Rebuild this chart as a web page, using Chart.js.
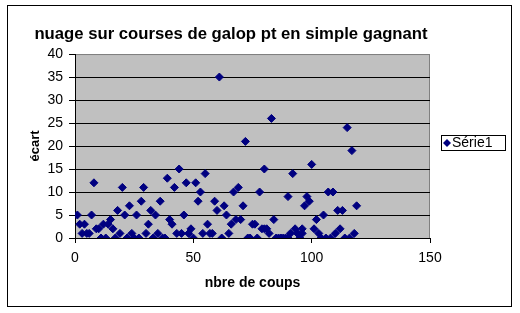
<!DOCTYPE html>
<html>
<head>
<meta charset="utf-8">
<script src="https://cdn.jsdelivr.net/npm/chart.js@4"></script>
<style>
html,body{margin:0;padding:0;background:#fff;}
#wrap{width:520px;height:313px;}
</style>
</head>
<body>
<div id="wrap"><canvas id="c" width="520" height="313"></canvas></div>
<script>
const chartTitle = "nuage sur courses de galop pt en simple gagnant";
const xAxisTitle = "nbre de coups";
const yAxisTitle = "écart";
const seriesName = "Série1";
const xTicks = [0, 50, 100, 150];
const yTicks = [0, 5, 10, 15, 20, 25, 30, 35, 40];
const nbreCoups = [1,2,4,3,5,6,7,8,9,10,11,13,12,14,15,16,17,18,19,20,21,22,23,24,25,27,26,28,29,30,31,32,33,34,35,36,37,38,39,40,41,42,43,44,45,46,47,48,49,50,51,52,53,54,55,56,57,58,59,60,61,62,63,64,65,66,67,68,69,70,71,72,73,74,75,76,77,78,79,80,80,81,82,83,84,85,86,87,88,89,90,90,91,92,93,94,95,96,96,97,98,99,100,101,102,103,104,105,106,107,108,109,110,111,112,113,114,115,116,117,118,119];
const ecart     = [5,3,3,1,1,1,5,12,2,2,0,0,3,3,4,2,0,6,1,11,5,0,7,1,0,0,5,8,11,1,3,6,0,5,1,8,0,0,13,4,3,11,1,15,1,5,12,1,2,0,12,8,10,1,14,3,1,1,8,6,35,0,7,5,1,3,10,4,11,4,7,21,0,0,3,3,0,10,2,2,15,2,1,26,4,0,0,0,0,0,9,0,1,14,2,1,0,2,1,7,9,8,16,2,4,1,0,5,0,10,0,10,1,6,2,6,0,24,0,19,1,7];

const points = nbreCoups.map((x, i) => ({x: x, y: ecart[i]}));
const NAVY = '#000080';
const FONT = "'Liberation Sans', Arial, sans-serif";

const decor = {
  id: 'decor',
  beforeDraw(chart) {
    const {ctx, chartArea: a} = chart;
    ctx.save();
    ctx.fillStyle = '#fff';
    ctx.fillRect(0, 0, chart.width, chart.height);
    ctx.fillStyle = '#c0c0c0';
    ctx.fillRect(a.left, a.top, a.right - a.left, a.bottom - a.top);
    ctx.strokeStyle = '#808080';
    ctx.lineWidth = 1;
    ctx.strokeRect(a.left + 0.5, a.top + 0.5, a.right - a.left - 1, a.bottom - a.top);
    ctx.restore();
  },
  afterDraw(chart) {
    const {ctx} = chart;
    ctx.save();
    ctx.strokeStyle = '#000';
    ctx.lineWidth = 1;
    ctx.strokeRect(7.5, 5.5, 504, 301);
    // legend
    ctx.strokeRect(441.5, 135.5, 64, 15);
    const cx = 447, cy = 143;
    ctx.fillStyle = NAVY;
    ctx.beginPath();
    ctx.moveTo(cx, cy - 4); ctx.lineTo(cx + 4, cy); ctx.lineTo(cx, cy + 4); ctx.lineTo(cx - 4, cy);
    ctx.closePath(); ctx.fill();
    ctx.fillStyle = '#000';
    ctx.font = "14px " + FONT;
    ctx.textBaseline = 'middle';
    ctx.textAlign = 'left';
    ctx.fillText(seriesName, 452, cy + 0.5);
    ctx.restore();
  }
};

new Chart(document.getElementById('c'), {
  type: 'scatter',
  data: {
    datasets: [{
      label: seriesName,
      data: points,
      pointStyle: 'rectRot',
      radius: 4,
      hoverRadius: 4,
      backgroundColor: NAVY,
      borderColor: NAVY,
      borderWidth: 1,
      xAxisID: 'x',
      yAxisID: 'y'
    }]
  },
  options: {
    responsive: false,
    animation: false,
    devicePixelRatio: 1,
    layout: {padding: {left: 0, right: 58, top: 0, bottom: 0}},
    plugins: {
      legend: {display: false},
      tooltip: {enabled: false},
      title: {
        display: true,
        text: chartTitle,
        color: '#000',
        font: {family: FONT, size: 16.7, weight: 'bold', lineHeight: 1.2},
        padding: {top: 24, bottom: 10}
      }
    },
    scales: {
      x: {
        type: 'linear',
        position: 'bottom',
        min: 0, max: 150,
        afterBuildTicks(s) { s.ticks = xTicks.map(v => ({value: v})); },
        afterFit(s) { s.height = 75; },
        grid: {display: true, drawOnChartArea: false, drawTicks: true, tickLength: 5, color: '#000'},
        border: {display: true, color: '#000', width: 1},
        ticks: {color: '#000', font: {family: FONT, size: 14}, padding: 7, maxRotation: 0},
        title: {display: true, text: xAxisTitle, color: '#000', font: {family: FONT, size: 14, weight: 'bold', lineHeight: 1.2}, padding: {top: 0, bottom: 21}}
      },
      y: {
        type: 'linear',
        position: 'left',
        min: 0, max: 40,
        afterBuildTicks(s) { s.ticks = yTicks.map(v => ({value: v})); },
        afterFit(s) { s.width = 75; },
        grid: {display: true, drawTicks: true, tickLength: 6, tickColor: '#000', color: c => (c.tick && c.tick.value === 40) ? '#808080' : '#000', lineWidth: 1},
        border: {display: true, color: '#000', width: 1},
        ticks: {color: '#000', font: {family: FONT, size: 14}, padding: 6},
        title: {display: true, text: yAxisTitle, color: '#000', font: {family: FONT, size: 13, weight: 'bold', lineHeight: 1.2}, padding: {top: 28, bottom: 0}}
      },
      y2: {
        type: 'linear',
        position: 'right',
        display: true,
        min: 0, max: 40,
        grid: {display: false, drawTicks: false},
        border: {display: false},
        ticks: {display: false},
        afterFit(s) { s.width = 32; }
      }
    }
  },
  plugins: [decor]
});
</script>
</body>
</html>
